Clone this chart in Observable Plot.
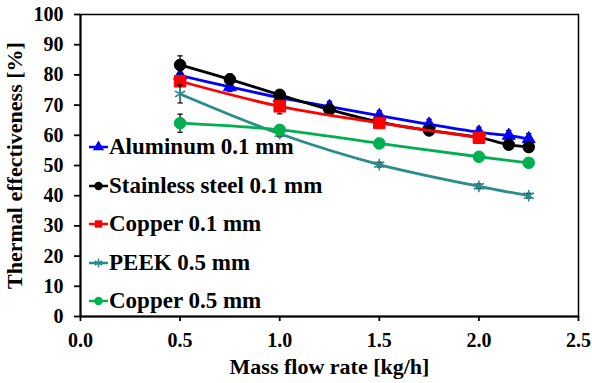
<!DOCTYPE html>
<html>
<head>
<meta charset="utf-8">
<script src="https://cdn.jsdelivr.net/npm/d3@7"></script>
<script src="https://cdn.jsdelivr.net/npm/@observablehq/plot@0.6"></script>
<style>
  html, body { margin: 0; padding: 0; background: #fff; }
  #wrap { position: relative; width: 592px; height: 383px; }
  #chart svg, #chart svg text { font-family: "Liberation Serif", "Times New Roman", Times, serif !important; font-weight: bold; }
  #legend { position: absolute; left: 89px; top: 128px; font-family: "Liberation Serif", "Times New Roman", Times, serif; font-weight: bold; font-size: 23px; color: #000; }
  .row { display: flex; align-items: center; height: 38.5px; }
  .row svg { margin-right: 1px; }
</style>
</head>
<body>
<div id="wrap"><div id="chart"></div><div id="legend"></div></div>
<script>
// Data
const xFull = [0.5, 0.75, 1.0, 1.25, 1.5, 1.75, 2.0, 2.15, 2.25];
const xHalf = [0.5, 1.0, 1.5, 2.0];
const xFive = [0.5, 1.0, 1.5, 2.0, 2.25];

const aluminum = [79.8, 76.0, 72.5, 69.5, 66.5, 63.6, 61.0, 59.9, 58.8];
const aluminumErr = [1.8, 1.5, 1.5, 1.7, 1.6, 1.7, 1.7, 1.7, 1.8];
const stainless = [83.3, 78.5, 73.4, 68.5, 64.4, 61.6, 59.3, 56.9, 56.1];
const stainlessErr = [3.0, 1.8, 1.5, 1.5, 1.2, 1.2, 1.2, 1.2, 1.2];
const copper01 = [77.9, 69.6, 64.1, 59.2];
const copper01Err = [1.5, 2.5, 1.5, 1.5];
const peek = [73.7, 60.5, 50.3, 43.1, 40.0];
const peekErr = [3.0, 1.0, 0.8, 0.8, 0.8];
const copper05 = [64.0, 61.8, 57.3, 52.9, 50.9];
const copper05Err = [3.0, 1.0, 0.8, 0.8, 0.8];

const names = ["Aluminum 0.1 mm", "Stainless steel 0.1 mm", "Copper 0.1 mm", "PEEK 0.5 mm", "Copper 0.5 mm"];
const colors = ["#0000ff", "#000000", "#ff0000", "#2a8c8c", "#00b050"];
const symbols = ["triangle", "circle", "square", "asterisk", "circle"];
const xTicks = [0, 0.5, 1.0, 1.5, 2.0, 2.5];
const yTicks = [0, 10, 20, 30, 40, 50, 60, 70, 80, 90, 100];

const seriesList = [
  {name: names[0], xs: xFull, ys: aluminum, es: aluminumErr, color: colors[0], symbol: symbols[0], r: 4.8},
  {name: names[1], xs: xFull, ys: stainless, es: stainlessErr, color: colors[1], symbol: symbols[1], r: 5.8},
  {name: names[2], xs: xHalf, ys: copper01, es: copper01Err, color: colors[2], symbol: symbols[2], r: 6.5},
  {name: names[3], xs: xFive, ys: peek, es: peekErr, color: colors[3], symbol: symbols[3], r: 5.5},
  {name: names[4], xs: xFive, ys: copper05, es: copper05Err, color: colors[4], symbol: symbols[4], r: 5.8}
];

const capSymbol = {
  draw(context, size) {
    const w = Math.sqrt(size) / 2;
    context.moveTo(-w, 0);
    context.lineTo(w, 0);
  }
};

const marks = [];
for (const s of seriesList) {
  const rows = s.xs.map((x, i) => ({x, y: s.ys[i], lo: s.ys[i] - s.es[i], hi: s.ys[i] + s.es[i]}));
  marks.push(Plot.ruleX(rows, {x: "x", y1: "lo", y2: "hi", stroke: "#000", strokeWidth: 1.2}));
  marks.push(Plot.dot(rows, {x: "x", y: "hi", symbol: capSymbol, r: 3, stroke: "#000", strokeWidth: 1.2}));
  marks.push(Plot.dot(rows, {x: "x", y: "lo", symbol: capSymbol, r: 3, stroke: "#000", strokeWidth: 1.2}));
  marks.push(Plot.line(rows, {x: "x", y: "y", stroke: s.color, strokeWidth: 2.8, curve: "catmull-rom"}));
  if (s.symbol === "asterisk") {
    marks.push(Plot.dot(rows, {x: "x", y: "y", symbol: "asterisk", r: s.r, stroke: s.color, strokeWidth: 1.6}));
  } else {
    marks.push(Plot.dot(rows, {x: "x", y: "y", symbol: s.symbol, r: s.r, fill: s.color, stroke: s.color, strokeWidth: 1}));
  }
}

const chart = Plot.plot({
  width: 592,
  height: 383,
  marginLeft: 80,
  marginRight: 14,
  marginTop: 14,
  marginBottom: 67,
  style: {fontSize: "20px", fontFamily: "'Liberation Serif', serif", fontWeight: "bold", color: "#000", background: "#fff"},
  x: {domain: [0, 2.5]},
  y: {domain: [0, 100]},
  marks: [
    Plot.frame({stroke: "#000", strokeWidth: 1.5}),
    Plot.axisX({ticks: xTicks, tickFormat: d3.format(".1f"), tickSize: 5, tickPadding: 11, strokeWidth: 1.8,
      label: "Mass flow rate [kg/h]", labelAnchor: "center", labelArrow: "none", labelOffset: 57}),
    Plot.axisY({ticks: yTicks, tickSize: 6, tickPadding: 11, strokeWidth: 1.8,
      label: "Thermal effectiveness [%]", labelAnchor: "center", labelArrow: "none", labelOffset: 74}),
    Plot.ruleX([0], {stroke: "#000", strokeWidth: 2}),
    Plot.ruleY([0], {stroke: "#000", strokeWidth: 2}),
    ...marks
  ]
});
document.getElementById("chart").appendChild(chart);
chart.querySelectorAll('g[aria-label="x-axis label"] text, g[aria-label="y-axis label"] text').forEach(t => { t.style.fontSize = "22px"; });

// Legend
const legend = document.getElementById("legend");
seriesList.forEach(s => {
  const row = document.createElement("div");
  row.className = "row";
  const sw = d3.create("svg").attr("width", 19).attr("height", 14);
  sw.append("line").attr("x1", 0).attr("x2", 19).attr("y1", 7).attr("y2", 7).attr("stroke", s.color).attr("stroke-width", 2.5);
  const symMap = {triangle: d3.symbolTriangle, circle: d3.symbolCircle, square: d3.symbolSquare, asterisk: d3.symbolAsterisk};
  const p = sw.append("path").attr("transform", "translate(9.5,7)").attr("d", d3.symbol(symMap[s.symbol], 55)());
  if (s.symbol === "asterisk") p.attr("fill", "none").attr("stroke", s.color).attr("stroke-width", 1.5);
  else p.attr("fill", s.color);
  row.appendChild(sw.node());
  const span = document.createElement("span");
  span.textContent = s.name;
  row.appendChild(span);
  legend.appendChild(row);
});
</script>
</body>
</html>
